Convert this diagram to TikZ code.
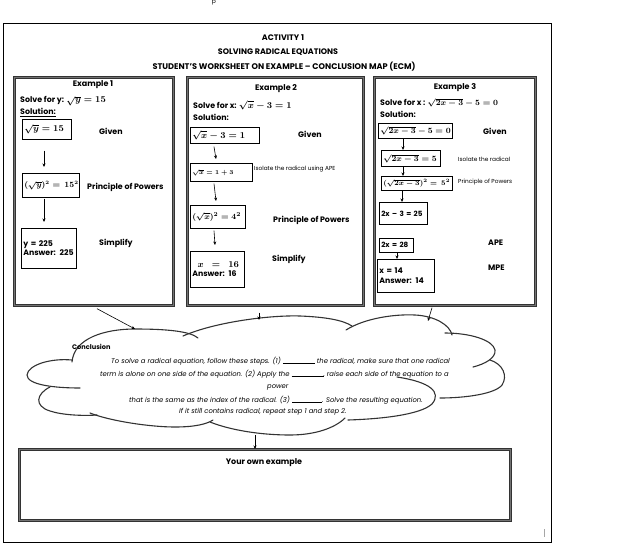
\documentclass[tikz,border=0pt]{standalone}
\usepackage{fontspec}
\setmainfont{Poppins}
\usetikzlibrary{arrows.meta,calc}
\newcommand{\mx}[2][9]{\mbox{\fontsize{#1}{10}\selectfont\boldmath$#2$}}
\begin{document}
\begin{tikzpicture}[x=1pt,y=-1pt,
  frame/.style={draw=black, line width=0.8pt},
  exbox/.style={draw=black!80, line width=0.7pt, double=black!55, double distance=1.6pt, anchor=north west, inner sep=0pt},
  ibox/.style={draw=black, line width=0.7pt, anchor=north west, inner xsep=2pt, inner ysep=1pt, align=left, font=\fontsize{7.8}{9.5}\selectfont\bfseries},
  ttl/.style={inner sep=0pt, font=\fontsize{8}{9}\selectfont\bfseries},
  head/.style={inner sep=0pt, font=\fontsize{8}{9}\selectfont\bfseries},
  lbl/.style={anchor=west, inner sep=0pt, font=\fontsize{7.9}{9}\selectfont\bfseries},
  sml/.style={anchor=west, inner sep=0pt, font=\fontsize{5.8}{7}\selectfont},
  arr/.style={-{Stealth[length=3.5pt,width=3pt]}, line width=0.6pt},
  cloudline/.style={draw=black!80, line width=1.1pt, line cap=round},
  ctext/.style={anchor=west, inner sep=0pt, font=\fontsize{6.8}{7.5}\selectfont\itshape},
]
\useasboundingbox (0,0) rectangle (617,548);
\node[inner sep=0pt, font=\fontsize{6}{7}\selectfont] (stray) at (214,3) {p};
\draw[frame] (3,23) rectangle (551,542);
\draw[black!35, line width=0.5pt] (544,529) -- (544,537);

% titles
\node[ttl] (t1) at (283,38) {ACTIVITY 1};
\node[ttl] (t2) at (278,52) {SOLVING RADICAL EQUATIONS};
\node[ttl, font=\fontsize{8.2}{9}\selectfont\bfseries] (t3) at (284,67) {STUDENT'S WORKSHEET ON EXAMPLE -- CONCLUSION MAP (ECM)};

% example frames
\node[exbox, minimum width=159pt, minimum height=228pt] (ex1) at (14,77) {};
\node[exbox, minimum width=176pt, minimum height=228pt] (ex2) at (187,77) {};
\node[exbox, minimum width=161pt, minimum height=228pt] (ex3) at (374,77) {};
\node[exbox, minimum width=491pt, minimum height=71pt] (own) at (19,449) {};

% Example 1
\node[head] (h1) at (93,85) {Example 1};
\node[lbl] (s1) at (20,101) {Solve for y: \mx{\sqrt{y} = 15}};
\node[lbl] (so1) at (20,112.5) {\underline{Solution:}};
\node[ibox, text width=45pt, minimum height=20pt] (b11) at (22,119) {\mx{\sqrt{y} = 15}};
\node[lbl] (g1) at (99,131) {Given};
\node[ibox, text width=53pt, minimum height=24pt] (b12) at (22,173) {\mx[7.6]{(\sqrt{y})^2 =\,15^2}};
\node[lbl] (p1) at (87,187) {Principle of Powers};
\node[ibox, text width=51pt, minimum height=40pt] (b13) at (21,228) {y = 225\\Answer: 225};
\node[lbl] (sm1) at (99,243) {Simplify};
\draw[arr] ([shift={(22pt,-11pt)}]b11.south west) -- ([shift={(22pt,6pt)}]b12.north west);
\draw[arr] ([shift={(22pt,-1pt)}]b12.south west) -- ([shift={(23pt,6pt)}]b13.north west);

% Example 2
\node[head] (h2) at (276,89) {Example 2};
\node[lbl] (s2) at (193,105.5) {Solve for x: \mx{\sqrt{x} - 3 = 1}};
\node[lbl] (so2) at (193,117) {Solution:};
\node[ibox, text width=65pt, minimum height=16pt] (b21) at (190,127) {\mx{\sqrt{x} - 3 = 1}};
\node[lbl] (g2) at (298,134) {Given};
\node[ibox, text width=58pt, minimum height=18pt] (b22) at (190,163) {\mx[6]{\sqrt{x} = 1 + 3}};
\node[sml] (i2) at (254,169) {Isolate the radical using APE};
\node[ibox, text width=51pt, minimum height=23pt] (b23) at (190,205) {\mx[8.5]{(\sqrt{x})^2 = 4^2}};
\node[lbl] (p2) at (273,220) {Principle of Powers};
\node[ibox, text width=50pt, minimum height=36pt] (b24) at (190,251) {\ \ \mx{x\ \ =\ \ 16}\\Answer: 16};
\node[lbl] (sm2) at (272,259) {Simplify};
\draw[arr] ([shift={(24pt,-3pt)}]b21.south west) -- ([shift={(26pt,4pt)}]b22.north west);
\draw[arr] ([shift={(24pt,-2pt)}]b22.south west) -- ([shift={(26pt,4pt)}]b23.north west);
\draw[arr] ([shift={(24pt,-2pt)}]b23.south west) -- ([shift={(25pt,6pt)}]b24.north west);

% Example 3
\node[head] (h3) at (455,88) {Example 3};
\node[lbl] (s3) at (380,102.5) {Solve for x : \mx[8]{\sqrt{2x - 3} - 5 = 0}};
\node[lbl] (so3) at (380,114) {Solution:};
\node[ibox, text width=70pt, minimum height=15pt, inner ysep=0.5pt] (b31) at (378,123) {\mx[8.3]{\sqrt{2x - 3} - 5 = 0}};
\node[lbl] (g3) at (483,131) {Given};
\node[ibox, text width=55pt, minimum height=16pt, inner ysep=0.5pt] (b32) at (381,150) {\mx[8.3]{\sqrt{2x - 3} = 5}};
\node[sml] (i3) at (458,159) {Isolate the radical};
\node[ibox, text width=67pt, minimum height=14pt, inner ysep=0.5pt] (b33) at (381,176) {\mx[6.9]{(\sqrt{2x - 3})^2 =\,5^2}};
\node[sml] (p3) at (458,182) {Principle of Powers};
\node[ibox, text width=44pt, minimum height=22pt, font=\fontsize{7.2}{9}\selectfont\bfseries] (b34) at (379,202) {\mbox{2x -- 3 = 25}};
\node[ibox, text width=30pt, minimum height=14pt, inner ysep=0.5pt, font=\fontsize{7.2}{9}\selectfont\bfseries] (b35) at (379,238) {\mbox{2x = 28}};
\node[lbl] (a3) at (488,243) {APE};
\node[ibox, text width=53pt, minimum height=33pt] (b36) at (377,259) {x = 14\\Answer: 14};
\node[lbl] (m3) at (488,268) {MPE};
\draw[arr] ([shift={(25pt,0pt)}]b31.south west) -- ([shift={(22pt,0pt)}]b32.north west);
\draw[arr] ([shift={(22pt,0pt)}]b32.south west) -- ([shift={(22pt,0pt)}]b33.north west);
\draw[arr] ([shift={(21pt,0pt)}]b33.south west) -- ([shift={(23pt,0pt)}]b34.north west);
\draw[arr] ([shift={(18pt,0pt)}]b35.south west) -- ([shift={(20pt,0pt)}]b36.north west);

% cloud
\draw[cloudline] (72,362) .. controls (74,338) and (105,329) .. (135,329) .. controls (165,329) and (190,331) .. (198,338);
\draw[cloudline] (183,336) .. controls (215,322) and (270,315) .. (300,316) .. controls (325,317) and (343,320) .. (352,326);
\draw[cloudline] (346,330) .. controls (365,318) and (395,314) .. (415,315) .. controls (435,316) and (450,325) .. (452,335);
\draw[cloudline] (445,333) .. controls (470,333) and (493,340) .. (495,350) .. controls (496,358) and (485,364) .. (473,367);
\draw[cloudline] (490,360) .. controls (503,364) and (508,376) .. (502,385) .. controls (495,394) and (465,398) .. (440,398);
\draw[cloudline] (397,377) .. controls (430,382) and (442,392) .. (432,404) .. controls (420,415) and (380,419) .. (348,420);
\draw[cloudline] (210,422) .. controls (230,430) and (260,435) .. (290,435) .. controls (315,435) and (335,428) .. (345,418);
\draw[cloudline] (90,413) .. controls (110,421) and (150,427) .. (175,427) .. controls (195,427) and (207,424) .. (213,420);
\draw[cloudline] (50,387) .. controls (36,394) and (34,406) .. (50,411) .. controls (62,415) and (82,416) .. (97,415);
\draw[cloudline] (72,360) .. controls (50,358) and (28,365) .. (27,375) .. controls (27,385) and (55,388) .. (80,388);
\coordinate (c1) at (135,329);
\coordinate (c2) at (259,320);
\coordinate (c3) at (428,321);
\coordinate (c4) at (255,435);

\node[anchor=west, inner sep=0pt, font=\fontsize{6.6}{7.5}\selectfont\bfseries] (conc) at (72,347) {Conclusion};
\node[ctext] (l1) at (111,361) {To solve a radical equation, follow these steps. (1) \rule[-0.5pt]{32pt}{0.4pt} the radical, make sure that one radical};
\node[ctext] (l2) at (100,374) {term is alone on one side of the equation. (2) Apply the \rule[-0.5pt]{32pt}{0.4pt}, raise each side of the equation to a};
\node[ctext] (l3) at (267,387) {power};
\node[ctext] (l4) at (129,400) {that is the same as the index of the radical. (3) \rule[-0.5pt]{30pt}{0.4pt}. Solve the resulting equation.};
\node[ctext] (l5) at (179,412) {If it still contains radical, repeat step 1 and step 2.};

% arrows to/from cloud
\draw[arr] ([shift={(83pt,-3pt)}]ex1.south west) -- (c1);
\draw[arr] ([shift={(72pt,-7pt)}]ex2.south west) -- (c2);
\draw[arr] ([shift={(58pt,-2pt)}]ex3.south west) -- (c3);
\draw[arr] (c4) -- ([shift={(236pt,0pt)}]own.north west);

\node[head] (yo) at (264,463) {Your own example};
\end{tikzpicture}
\end{document}
